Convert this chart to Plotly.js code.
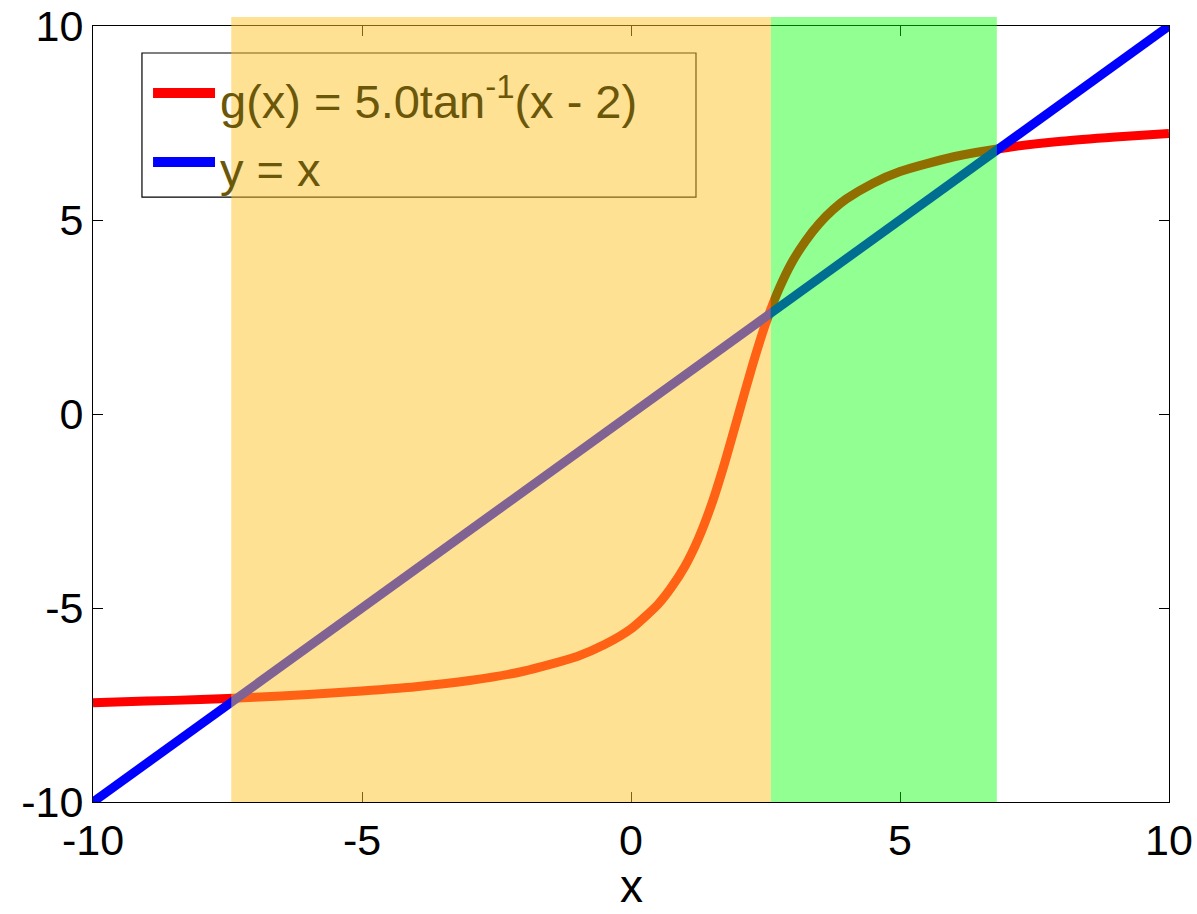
<!DOCTYPE html>
<html>
<head>
<meta charset="utf-8">
<script src="https://cdn.plot.ly/plotly-3.0.1.min.js"></script>
<style>
  html, body { margin: 0; padding: 0; background: #ffffff; }
  #chart { width: 1197px; height: 914px; }
</style>
</head>
<body>
<div id="chart"></div>
<script>
// Sampled points of g(x) = 5.0 atan(x - 2)
const gX = [-10, -9, -8, -7, -6, -5, -4, -3, -2, -1, -0.5, 0, 0.5, 0.75, 1, 1.25, 1.5, 1.75, 2,
            2.25, 2.5, 2.75, 3, 3.25, 3.5, 3.75, 4, 4.5, 5, 6, 7, 8, 9, 10];
const gY = [-7.44, -7.40, -7.36, -7.30, -7.23, -7.14, -7.03, -6.87, -6.63, -6.25, -5.95, -5.54,
            -4.91, -4.47, -3.93, -3.22, -2.32, -1.22, 0, 1.22, 2.32, 3.22, 3.93, 4.47, 4.91,
            5.26, 5.54, 5.95, 6.25, 6.63, 6.87, 7.03, 7.14, 7.23];

// Identity line y = x
const idX = [-10, 10];
const idY = [-10, 10];

// Shaded intervals between the fixed points
const band1 = [-7.43, 2.60];
const band2 = [2.60, 6.80];

// Axis ticks and label
const tickVals = [-10, -5, 0, 5, 10];
const tickText = ['-10', '-5', '0', '5', '10'];
const xLabel = 'x';

// Series labels and colours
const seriesNames = ['g(x) = 5.0tan<sup>-1</sup>(x - 2)', 'y = x'];
const seriesColors = ['#ff0000', '#0000ff'];

const FONT = 'Liberation Sans, Arial, Helvetica, sans-serif';

const traces = [
  {
    x: gX, y: gY, type: 'scatter', mode: 'lines', name: seriesNames[0],
    line: { color: seriesColors[0], width: 9, shape: 'spline', smoothing: 0.6 },
    showlegend: false, hoverinfo: 'skip'
  },
  {
    x: idX, y: idY, type: 'scatter', mode: 'lines', name: seriesNames[1],
    line: { color: seriesColors[1], width: 9 },
    showlegend: false, hoverinfo: 'skip'
  }
];

// Legend block drawn inside the axes (box + sample lines + labels)
const legBox = { x0: 0.0455, x1: 0.5604, y0: 0.7796, y1: 0.9652 };
const legLineX = [0.0558, 0.1134];
const legRowY = [0.9137, 0.8247];
const legTextX = 0.116;
const legTextY = [0.907, 0.815];

const shapes = [
  {
    type: 'rect', xref: 'paper', yref: 'paper', layer: 'below',
    x0: legBox.x0, x1: legBox.x1, y0: legBox.y0, y1: legBox.y1,
    fillcolor: '#ffffff', line: { color: '#000000', width: 1.2 }
  },
  ...legRowY.map((yy, i) => ({
    type: 'line', xref: 'paper', yref: 'paper', layer: 'below',
    x0: legLineX[0], x1: legLineX[1], y0: yy, y1: yy,
    line: { color: seriesColors[i], width: 10 }
  })),
  {
    type: 'rect', xref: 'x', yref: 'paper', layer: 'above',
    x0: band1[0], x1: band1[1], y0: 0, y1: 1.0116,
    fillcolor: 'rgba(255,195,40,0.5)', line: { width: 0 }
  },
  {
    type: 'rect', xref: 'x', yref: 'paper', layer: 'above',
    x0: band2[0], x1: band2[1], y0: 0, y1: 1.0116,
    fillcolor: 'rgba(0,255,0,0.43)', line: { width: 0 }
  }
];

const annotations = seriesNames.map((t, i) => ({
  xref: 'paper', yref: 'paper', x: legTextX, y: legTextY[i],
  xanchor: 'left', yanchor: 'middle', showarrow: false, text: t,
  font: { family: FONT, size: 47, color: '#6b570a' }
}));

// x-axis label placed under the tick labels, kept inside the page
annotations.push({
  xref: 'paper', yref: 'paper', x: 0.5, y: -0.1425,
  xanchor: 'center', yanchor: 'bottom', showarrow: false, text: xLabel,
  borderpad: 0,
  font: { family: FONT, size: 46, color: '#000000' }
});

const axisCommon = {
  range: [-10, 10], tickmode: 'array', tickvals: tickVals, ticktext: tickText,
  ticks: 'inside', ticklen: 10, tickwidth: 1, tickcolor: '#000000',
  showline: true, linecolor: '#000000', linewidth: 1, mirror: 'ticks',
  showgrid: false, zeroline: false,
  tickfont: { family: FONT, size: 43, color: '#000000' }
};

const layout = {
  width: 1197, height: 914,
  margin: { l: 93, r: 28, t: 26, b: 112 },
  paper_bgcolor: '#ffffff', plot_bgcolor: '#ffffff',
  showlegend: false,
  xaxis: Object.assign({}, axisCommon),
  yaxis: Object.assign({}, axisCommon),
  shapes: shapes,
  annotations: annotations
};

Plotly.newPlot('chart', traces, layout, { displayModeBar: false, staticPlot: true });
</script>
</body>
</html>
